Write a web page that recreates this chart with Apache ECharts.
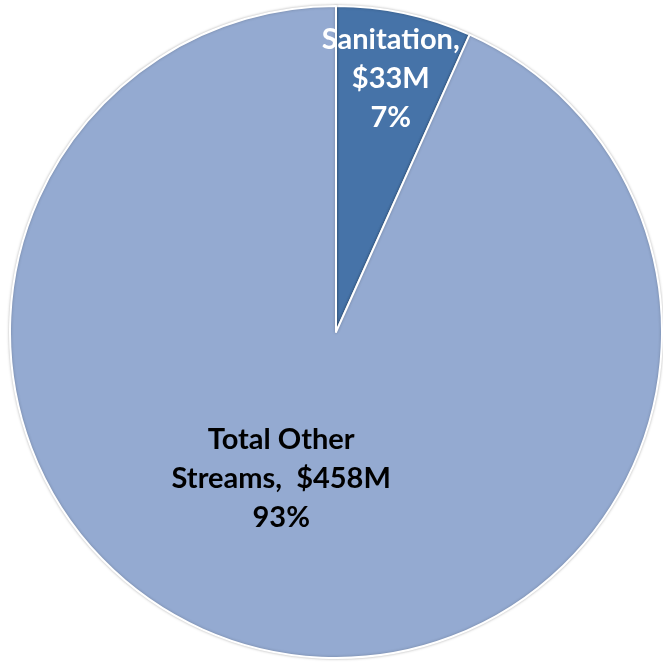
<!DOCTYPE html>
<html lang="en">
<head>
    <meta charset="utf-8">
    <title>Revenue by stream</title>
    <script src="https://cdn.jsdelivr.net/npm/echarts@6/dist/echarts.min.js"></script>
    <style type="text/css">
        html, body { margin: 0; padding: 0; background: #fff; }
        #main { width: 663px; height: 664px; }
    </style>
</head>
<body>
    <div id="main"></div>
    <script>
        // data ($M)
        var categories = ['Sanitation', 'Total Other Streams'];
        var values = [33, 458];
        var labelNames = ['Sanitation,', 'Total Other\nStreams, '];
        var colors = ['#4673A8', '#94AAD1'];
        var textColors = ['#ffffff', '#000000'];
        var offsets = [[20, -91], [-20, -16]];

        var chart = echarts.init(document.getElementById('main'));
        var data = categories.map(function (name, i) {
            return {
                name: name,
                value: values[i],
                itemStyle: { color: colors[i] },
                label: { color: textColors[i], offset: offsets[i] }
            };
        });

        var option = {
            animation: false,
            series: [{
                type: 'pie',
                center: [336, 332],
                radius: [0, 326],
                startAngle: 90,
                clockwise: true,
                itemStyle: {
                    borderColor: '#ffffff',
                    borderWidth: 2,
                    shadowBlur: 3,
                    shadowColor: 'rgba(0,0,0,0.25)'
                },
                label: {
                    show: true,
                    position: 'inside',
                    fontFamily: 'Lato',
                    fontWeight: 'bold',
                    fontSize: 29,
                    lineHeight: 39,
                    align: 'center',
                    formatter: function (p) {
                        return labelNames[p.dataIndex] + (p.dataIndex === 0 ? '\n' : ' ') +
                            '$' + p.value + 'M\n' + Math.round(p.percent) + '%';
                    }
                },
                labelLine: { show: false },
                emphasis: { disabled: true },
                data: data
            }]
        };
        chart.setOption(option);
    </script>
</body>
</html>
